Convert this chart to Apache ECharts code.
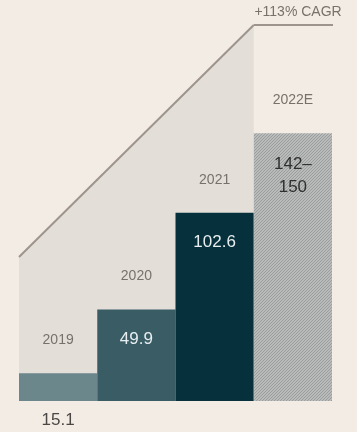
<!DOCTYPE html>
<html><head><meta charset="utf-8">
<script src="https://cdn.jsdelivr.net/npm/echarts@6/dist/echarts.min.js"></script>
<style>html,body{margin:0;padding:0;background:#f3ece4}#c{width:357px;height:432px}</style>
</head><body><div id="c"></div>
<script>
const years = ['2019', '2020', '2021', '2022E'];
const revenue = [15.1, 49.9, 102.6, 146];
const valueLabels = ['15.1', '49.9', '102.6', '142–\n150'];
const cagrText = '+113% CAGR';
const cagrX = [0, 3, 4.06];
const cagrY = [78.5, 205, 205];

const barColors = ['#6b878b', '#3a5d65', '#05303c', null];

// hatch pattern for estimate bar
const pc = document.createElement('canvas');
pc.width = 3; pc.height = 3;
const g = pc.getContext('2d');
g.fillStyle = '#b9bbba'; g.fillRect(0, 0, 3, 3);
g.strokeStyle = '#959a9b'; g.lineWidth = 0.9;
g.beginPath();
g.moveTo(0, 3); g.lineTo(3, 0);
g.moveTo(-1, 1); g.lineTo(1, -1);
g.moveTo(2, 4); g.lineTo(4, 2);
g.stroke();

const valueData = revenue.map((v, i) => {
  const d = { value: v, itemStyle: { color: barColors[i] || { image: pc, repeat: 'repeat' } } };
  if (i === 0) {
    d.label = { position: 'bottom', distance: 11, color: '#4a4744' };
  } else if (i === 3) {
    d.label = { position: 'insideTop', distance: 20, color: '#2f2f2f', lineHeight: 23 };
  }
  return d;
});

const chart = echarts.init(document.getElementById('c'), null, { renderer: 'canvas' });
chart.setOption({
  backgroundColor: '#f3ece4',
  animation: false,
  grid: { left: 19, right: 25, top: 25, bottom: 31 },
  xAxis: [
    { type: 'category', data: years, show: false },
    { type: 'value', min: 0, max: 4, show: false }
  ],
  yAxis: { type: 'value', min: 0, max: 205, show: false },
  series: [
    {
      type: 'line', xAxisIndex: 1, clip: false, symbol: 'none', z: 1,
      data: [[cagrX[0], cagrY[0]], [cagrX[1], cagrY[1]]],
      lineStyle: { color: '#9d958d', width: 2 },
      areaStyle: { color: '#e3dfd8', opacity: 1, origin: 'start' }
    },
    {
      type: 'line', xAxisIndex: 1, clip: false, symbol: 'none', z: 1,
      data: [[cagrX[1], cagrY[1]], [cagrX[2], cagrY[2]]],
      lineStyle: { color: '#9d958d', width: 2 }
    },
    {
      type: 'scatter', xAxisIndex: 1, clip: false, symbolSize: 0, z: 5,
      data: [[cagrX[2], cagrY[2]]],
      label: {
        show: true,
        formatter: () => cagrText,
        position: 'top', align: 'right', distance: 6, offset: [5, 0],
        color: '#58524c', fontSize: 14, fontFamily: 'Liberation Sans'
      }
    },
    {
      type: 'bar', barWidth: '100%', barCategoryGap: 0, z: 3,
      data: valueData,
      label: {
        show: true, position: 'insideTop', distance: 21,
        formatter: p => valueLabels[p.dataIndex],
        color: '#e8eef0', fontSize: 17, fontFamily: 'Liberation Sans'
      }
    },
    {
      type: 'bar', barWidth: '100%', barGap: '-100%', z: 4,
      data: revenue,
      itemStyle: { color: 'rgba(0,0,0,0)' },
      label: {
        show: true, position: 'top', distance: 26,
        formatter: p => years[p.dataIndex],
        color: '#77716b', fontSize: 14, fontFamily: 'Liberation Sans'
      }
    }
  ]
});
</script></body></html>
